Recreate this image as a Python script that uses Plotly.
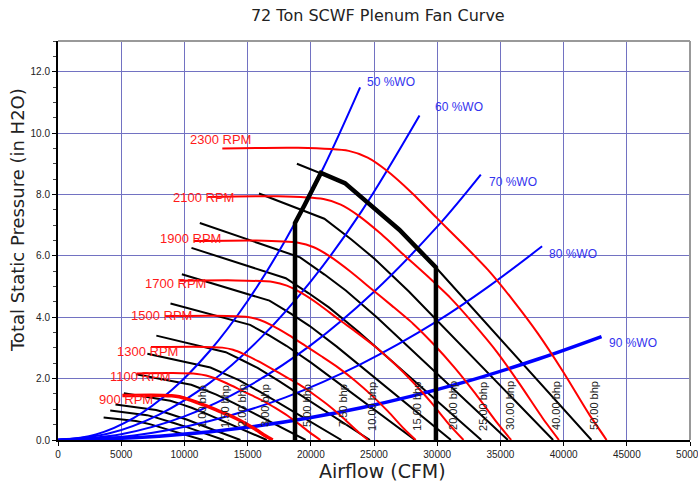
import plotly.graph_objects as go

# ---------------- Fan speed curves (CFM, in. H2O) ----------------
rpm_names = ["900 RPM", "1100 RPM", "1300 RPM", "1500 RPM", "1700 RPM", "1900 RPM", "2100 RPM", "2300 RPM"]
q_900 = [5090, 7430, 9000, 9590, 10170, 10960, 11740, 12520, 13300, 14090, 14870, 15650, 16430, 16980]
p_900 = [1.45, 1.46, 1.44, 1.41, 1.34, 1.23, 1.11, 0.98, 0.85, 0.70, 0.53, 0.34, 0.13, 0]
q_1100 = [6220, 9090, 11000, 11720, 12430, 13390, 14350, 15300, 16260, 17220, 18170, 19130, 20090, 20760]
p_1100 = [2.17, 2.18, 2.15, 2.10, 2.01, 1.84, 1.65, 1.46, 1.27, 1.04, 0.79, 0.50, 0.19, 0]
q_1300 = [7350, 10740, 13000, 13850, 14700, 15830, 16960, 18090, 19220, 20350, 21480, 22610, 23740, 24530]
p_1300 = [3.03, 3.04, 3.01, 2.94, 2.80, 2.57, 2.31, 2.04, 1.77, 1.45, 1.10, 0.70, 0.27, 0]
q_1500 = [8480, 12390, 15000, 15980, 16960, 18260, 19570, 20870, 22170, 23480, 24780, 26090, 27390, 28300]
p_1500 = [4.04, 4.05, 4.01, 3.91, 3.73, 3.42, 3.07, 2.72, 2.36, 1.94, 1.47, 0.94, 0.36, 0]
q_1700 = [9610, 14040, 17000, 18110, 19220, 20700, 22170, 23650, 25130, 26610, 28090, 29570, 31040, 32080]
p_1700 = [5.19, 5.20, 5.15, 5.03, 4.80, 4.40, 3.94, 3.50, 3.03, 2.49, 1.88, 1.20, 0.46, 0]
q_1900 = [10740, 15700, 19000, 20240, 21480, 23130, 24780, 26430, 28090, 29740, 31390, 33040, 34700, 35850]
p_1900 = [6.48, 6.50, 6.43, 6.28, 5.99, 5.49, 4.93, 4.37, 3.79, 3.11, 2.35, 1.50, 0.58, 0]
q_2100 = [11870, 17350, 21000, 22370, 23740, 25570, 27390, 29220, 31040, 32870, 34700, 36520, 38350, 39630]
p_2100 = [7.92, 7.94, 7.85, 7.67, 7.32, 6.71, 6.02, 5.34, 4.63, 3.79, 2.88, 1.83, 0.71, 0]
q_2300 = [13000, 19000, 23000, 24500, 26000, 28000, 30000, 32000, 34000, 36000, 38000, 40000, 42000, 43400]
p_2300 = [9.50, 9.52, 9.42, 9.20, 8.78, 8.05, 7.22, 6.40, 5.55, 4.55, 3.45, 2.20, 0.85, 0]
rpm_label_q = [5340, 6490, 7100, 8200, 9300, 10480, 11500, 12860]
rpm_label_p = [1.32, 2.06, 2.89, 4.07, 5.10, 6.58, 7.91, 9.79]

# ---------------- Brake horsepower curves ----------------
bhp_names = ["1.00 bhp", "1.50 bhp", "2.00 bhp", "3.00 bhp", "5.00 bhp", "7.50 bhp", "10.00 bhp",
             "15.00 bhp", "20.00 bhp", "25.00 bhp", "30.00 bhp", "40.00 bhp", "50.00 bhp"]
q_b1 = [3610, 4610, 5430, 6160, 6790, 7330, 8110, 8960, 9770, 10580, 11450]
p_b1 = [0.73, 0.69, 0.65, 0.62, 0.56, 0.51, 0.41, 0.31, 0.21, 0.11, 0]
q_b1_5 = [4130, 5280, 6210, 7050, 7770, 8390, 9290, 10250, 11190, 12120, 13110]
p_b1_5 = [0.96, 0.90, 0.85, 0.81, 0.73, 0.66, 0.54, 0.41, 0.27, 0.14, 0]
q_b2 = [4550, 5810, 6840, 7760, 8550, 9230, 10230, 11290, 12310, 13340, 14430]
p_b2 = [1.16, 1.09, 1.03, 0.98, 0.89, 0.80, 0.66, 0.49, 0.33, 0.17, 0]
q_b3 = [5210, 6660, 7830, 8890, 9790, 10570, 11710, 12920, 14090, 15270, 16520]
p_b3 = [1.52, 1.43, 1.35, 1.28, 1.16, 1.05, 0.86, 0.64, 0.43, 0.22, 0]
q_b5 = [6170, 7890, 9280, 10540, 11610, 12530, 13880, 15320, 16710, 18100, 19590]
p_b5 = [2.14, 2.01, 1.90, 1.80, 1.63, 1.48, 1.21, 0.90, 0.61, 0.31, 0]
q_b7_5 = [7070, 9030, 10630, 12060, 13280, 14350, 15890, 17530, 19130, 20720, 22420]
p_b7_5 = [2.81, 2.63, 2.49, 2.36, 2.14, 1.94, 1.59, 1.19, 0.80, 0.41, 0]
q_b10 = [7780, 9940, 11700, 13270, 14620, 15790, 17490, 19300, 21050, 22810, 24680]
p_b10 = [3.40, 3.19, 3.02, 2.86, 2.59, 2.35, 1.92, 1.44, 0.97, 0.50, 0]
q_b15 = [8900, 11380, 13390, 15200, 16740, 18070, 20020, 22090, 24100, 26110, 28250]
p_b15 = [4.45, 4.18, 3.95, 3.75, 3.40, 3.07, 2.52, 1.88, 1.27, 0.65, 0]
q_b20 = [9800, 12530, 14740, 16730, 18420, 19890, 22030, 24310, 26520, 28740, 31090]
p_b20 = [5.40, 5.06, 4.79, 4.54, 4.12, 3.72, 3.05, 2.28, 1.54, 0.79, 0]
q_b25 = [10560, 13490, 15870, 18020, 19840, 21430, 23730, 26190, 28570, 30950, 33490]
p_b25 = [6.26, 5.87, 5.56, 5.27, 4.78, 4.32, 3.54, 2.65, 1.78, 0.91, 0]
q_b30 = [11220, 14340, 16870, 19150, 21090, 22770, 25220, 27830, 30360, 32890, 35590]
p_b30 = [7.07, 6.63, 6.27, 5.95, 5.39, 4.87, 4.00, 2.99, 2.01, 1.03, 0]
q_b40 = [15900, 18570, 21070, 23210, 25060, 27760, 30630, 33420, 36200, 39170]
p_b40 = [8.03, 7.60, 7.21, 6.53, 5.90, 4.84, 3.62, 2.44, 1.25, 0]
q_b50 = [18900, 20000, 22700, 25000, 27000, 29900, 33000, 36000, 39000, 42200]
p_b50 = [9.00, 8.82, 8.37, 7.58, 6.85, 5.62, 4.20, 2.83, 1.45, 0]
bhp_label_q = [11390, 13210, 14560, 16380, 19700, 22550, 24840, 28380, 31250, 33620, 35760, 39400, 42410]
bhp_label_p = [1.11] * 13

# ---------------- System (% wide open) curves ----------------
wo_names = ["50 %WO", "60 %WO", "70 %WO", "80 %WO", "90 %WO"]
q_wo50 = [0, 3000, 6000, 9000, 12000, 15000, 18000, 21000, 23900]
p_wo50 = [0, 0.18, 0.72, 1.63, 2.90, 4.53, 6.52, 8.87, 11.49]
q_wo60 = [0, 4000, 8000, 12000, 16000, 20000, 24000, 28600]
p_wo60 = [0, 0.21, 0.83, 1.86, 3.31, 5.17, 7.44, 10.57]
q_wo70 = [0, 5000, 10000, 15000, 20000, 25000, 30000, 33450]
p_wo70 = [0, 0.19, 0.77, 1.74, 3.09, 4.83, 6.95, 8.65]
q_wo80 = [0, 6000, 12000, 18000, 24000, 30000, 34000, 38300]
p_wo80 = [0, 0.15, 0.62, 1.39, 2.48, 3.87, 4.98, 6.31]
q_wo90 = [0, 8000, 16000, 24000, 32000, 38000, 43000]
p_wo90 = [0, 0.12, 0.47, 1.05, 1.87, 2.64, 3.37]
wo_label_q = [26340, 31720, 36000, 40740, 45490]
wo_label_p = [11.66, 10.85, 8.41, 6.06, 3.16]

# ---------------- Operating envelope ----------------
env_q = [18750, 18750, 19500, 20100, 20800, 22700, 25000, 27000, 29900, 29900]
env_p = [0, 7.07, 7.65, 8.13, 8.70, 8.37, 7.58, 6.85, 5.62, 0]

x_ticks = [0, 5000, 10000, 15000, 20000, 25000, 30000, 35000, 40000, 45000, 50000]
y_ticks = [0, 2, 4, 6, 8, 10, 12]

FONT = "Liberation Sans, Arial, sans-serif"
fig = go.Figure()

bhp_q = [q_b1, q_b1_5, q_b2, q_b3, q_b5, q_b7_5, q_b10, q_b15, q_b20, q_b25, q_b30, q_b40, q_b50]
bhp_p = [p_b1, p_b1_5, p_b2, p_b3, p_b5, p_b7_5, p_b10, p_b15, p_b20, p_b25, p_b30, p_b40, p_b50]
for name, q, p in zip(bhp_names, bhp_q, bhp_p):
    fig.add_trace(go.Scatter(x=q, y=p, mode="lines", name=name,
                             line=dict(color="black", width=2), hoverinfo="skip"))

wo_q = [q_wo50, q_wo60, q_wo70, q_wo80, q_wo90]
wo_p = [p_wo50, p_wo60, p_wo70, p_wo80, p_wo90]
for i, (name, q, p) in enumerate(zip(wo_names, wo_q, wo_p)):
    fig.add_trace(go.Scatter(x=q, y=p, mode="lines", name=name,
                             line=dict(color="#0000ff", width=3.5 if i == 4 else 2, shape="spline"),
                             hoverinfo="skip"))

rpm_q = [q_900, q_1100, q_1300, q_1500, q_1700, q_1900, q_2100, q_2300]
rpm_p = [p_900, p_1100, p_1300, p_1500, p_1700, p_1900, p_2100, p_2300]
for i, (name, q, p) in enumerate(zip(rpm_names, rpm_q, rpm_p)):
    fig.add_trace(go.Scatter(x=q, y=p, mode="lines", name=name,
                             line=dict(color="#ff0000", width=3.5 if i == 0 else 2, shape="spline", smoothing=0.6),
                             hoverinfo="skip"))

fig.add_trace(go.Scatter(x=env_q, y=env_p, mode="lines", name="envelope",
                         line=dict(color="black", width=4.5), hoverinfo="skip"))

for name, q, p in zip(rpm_names, rpm_label_q, rpm_label_p):
    fig.add_annotation(x=q, y=p, text=name, showarrow=False, xanchor="center", yanchor="middle",
                       font=dict(family=FONT, size=13, color="#ff1a1a"))
for name, q, p in zip(wo_names, wo_label_q, wo_label_p):
    fig.add_annotation(x=q, y=p, text=name, showarrow=False, xanchor="center", yanchor="middle",
                       font=dict(family=FONT, size=12, color="#3333ee"))
for name, q, p in zip(bhp_names, bhp_label_q, bhp_label_p):
    fig.add_annotation(x=q, y=p, text=name, showarrow=False, textangle=-90,
                       xanchor="center", yanchor="middle",
                       font=dict(family=FONT, size=11, color="#222222"))

# axis titles
fig.add_annotation(xref="paper", yref="paper", x=0.514, y=-0.078, text="Airflow (CFM)",
                   showarrow=False, xanchor="center", yanchor="middle",
                   font=dict(family="DejaVu Sans, sans-serif", size=19, color="#222222"))
fig.add_annotation(xref="paper", yref="paper", x=-0.065, y=0.551, text="Total Static Pressure (in H2O)",
                   showarrow=False, textangle=-90, xanchor="center", yanchor="middle",
                   font=dict(family="DejaVu Sans, sans-serif", size=18, color="#222222"))

# top/right frame
fig.add_shape(type="line", xref="paper", yref="paper", x0=0, x1=1, y0=1, y1=1,
              line=dict(color="#999999", width=2))
fig.add_shape(type="line", xref="paper", yref="paper", x0=1, x1=1, y0=0, y1=1,
              line=dict(color="#999999", width=2))

GRID = "#7272c2"
fig.update_xaxes(range=[0, 50000], tickvals=x_ticks, ticktext=[str(v) for v in x_ticks],
                 showgrid=True, gridcolor=GRID, gridwidth=1, zeroline=False,
                 showline=True, linecolor="black", linewidth=2,
                 ticks="outside", ticklen=4, tickcolor="black", automargin=False,
                 ticklabeloverflow="allow",
                 tickfont=dict(family=FONT, size=10, color="#222222"))
fig.update_yaxes(range=[0, 13], tickvals=y_ticks, ticktext=["%.1f" % v for v in y_ticks],
                 showgrid=True, gridcolor=GRID, gridwidth=1, zeroline=False,
                 showline=True, linecolor="black", linewidth=2,
                 ticks="outside", ticklen=4, tickcolor="black", automargin=False,
                 minor=dict(dtick=0.5, ticks="outside", ticklen=3, tickcolor="#444444", showgrid=False),
                 tickfont=dict(family=FONT, size=10, color="#222222"))

fig.update_layout(width=698, height=483, margin=dict(l=58, r=8, t=41, b=43),
                  plot_bgcolor="white", paper_bgcolor="white", showlegend=False,
                  title=dict(text="72 Ton SCWF Plenum Fan Curve", xref="paper", x=0.506,
                             yref="container", y=0.969, xanchor="center", yanchor="middle",
                             font=dict(family="DejaVu Sans, sans-serif", size=16, color="#222222")))

fig.write_html("out.html", config={"displayModeBar": False},
               post_script="document.body.style.margin='0';")
